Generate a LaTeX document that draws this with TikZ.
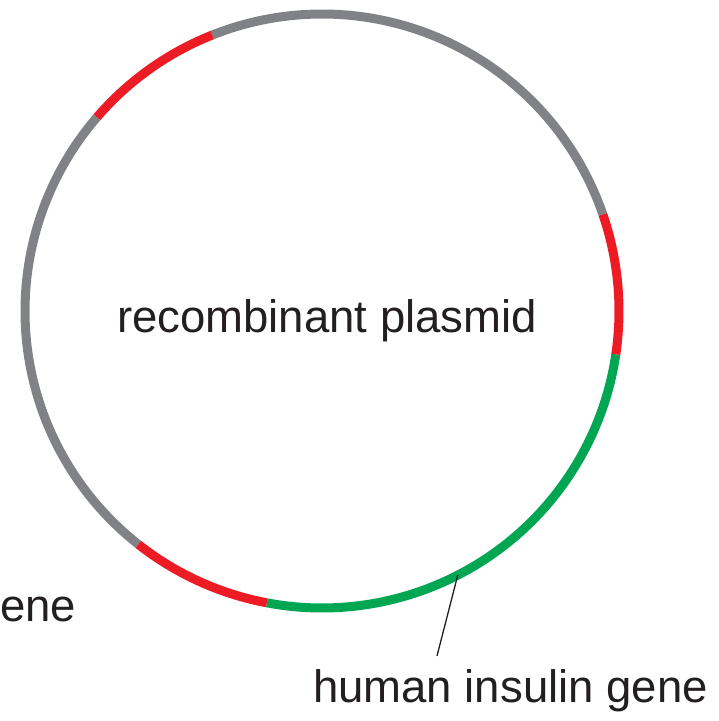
\documentclass[tikz,border=0pt]{standalone}
\usepackage{fontspec}
\setmainfont{Liberation Sans}
\usepackage{tikz}
\usetikzlibrary{positioning,calc}
\usepackage{xcolor}
\definecolor{plasgray}{RGB}{128,130,133}
\definecolor{siteRed}{RGB}{237,28,36}
\definecolor{geneGreen}{RGB}{0,166,81}
\definecolor{inkblack}{RGB}{35,31,32}

\begin{document}
\begin{tikzpicture}[
    x=1pt, y=1pt,
    ring/.style={line width=9pt},
    lbl/.style={font=\fontsize{45.5}{52}\selectfont, text=inkblack, inner sep=0pt},
    ptr/.style={draw=inkblack, line width=1.3pt}
]
    \useasboundingbox (0,0) rectangle (719,721);
    \coordinate (c) at (322,410);
    \def\rr{297}

    % plasmid ring, segment by segment
    \draw[ring, geneGreen] ([shift={(-100.7:\rr)}]c) arc[start angle=-100.7, end angle=-8.4, radius=\rr];
    \draw[ring, siteRed]   ([shift={(-8.4:\rr)}]c)   arc[start angle=-8.4, end angle=19, radius=\rr];
    \draw[ring, plasgray]  ([shift={(19:\rr)}]c)     arc[start angle=19, end angle=111.7, radius=\rr];
    \draw[ring, siteRed]   ([shift={(111.7:\rr)}]c)  arc[start angle=111.7, end angle=139.3, radius=\rr];
    \draw[ring, plasgray]  ([shift={(139.3:\rr)}]c)  arc[start angle=139.3, end angle=231.8, radius=\rr];
    \draw[ring, siteRed]   ([shift={(231.8:\rr)}]c)  arc[start angle=231.8, end angle=259.3, radius=\rr];

    \node[lbl, anchor=base] (title) at (327,388) {recombinant plasmid};
    \node[lbl, anchor=base west] (insulin) at (313,18) {human insulin gene};
    \node[lbl, anchor=base west] (other) at (0,99) {ene};

    \coordinate (ontip) at ([shift={(-62.8:\rr)}]c);
    \coordinate (ptrend) at (437,65);
    \draw[ptr] (ontip) -- (ptrend);
\end{tikzpicture}
\end{document}
